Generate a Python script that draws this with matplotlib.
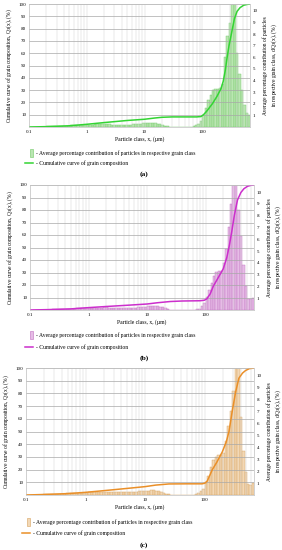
import numpy as np
import matplotlib
matplotlib.use('Agg')
import matplotlib.pyplot as plt
from matplotlib.patches import Rectangle
from matplotlib.lines import Line2D

plt.rcParams['font.family'] = ['Liberation Serif', 'DejaVu Serif']

# grain classes: 24 classes per decade from 0.1 um
class_edges = np.geomspace(0.1, 0.1 * 10 ** (92 / 24), 93)

# average percentage contribution per class, dQ3 (%)
dq_a = [0.02, 0.02, 0.02, 0.03, 0.03, 0.03, 0.04, 0.05, 0.05, 0.06, 0.07, 0.08,
        0.09, 0.10, 0.10, 0.11, 0.12, 0.13, 0.14, 0.15, 0.15, 0.16, 0.16, 0.17,
        0.18, 0.19, 0.20, 0.22, 0.23, 0.24, 0.25, 0.25, 0.24, 0.23, 0.21, 0.20,
        0.18, 0.17, 0.16, 0.16, 0.17, 0.18, 0.20, 0.22, 0.25, 0.28, 0.30, 0.32,
        0.34, 0.35, 0.36, 0.36, 0.34, 0.30, 0.25, 0.18, 0.10, 0.05, 0.02, 0.01,
        0, 0, 0, 0, 0, 0.01, 0.02, 0.04, 0.08, 0.15, 0.30, 0.55,
        1.0, 1.6, 2.3, 2.8, 3.2, 3.3, 3.3, 3.4, 3.7, 6.0, 7.8, 9.0,
        11.5, 11.0, 6.4, 4.6, 3.2, 1.9, 1.2, 1.0]
dq_b = [0.02, 0.02, 0.02, 0.02, 0.03, 0.03, 0.03, 0.04, 0.04, 0.05, 0.06, 0.07,
        0.08, 0.09, 0.09, 0.10, 0.11, 0.12, 0.12, 0.13, 0.14, 0.14, 0.15, 0.15,
        0.16, 0.17, 0.18, 0.19, 0.20, 0.21, 0.22, 0.22, 0.21, 0.20, 0.19, 0.18,
        0.17, 0.16, 0.15, 0.15, 0.16, 0.17, 0.18, 0.20, 0.22, 0.24, 0.26, 0.28,
        0.30, 0.31, 0.32, 0.32, 0.30, 0.27, 0.22, 0.15, 0.08, 0.04, 0.02, 0.01,
        0, 0, 0, 0, 0, 0.01, 0.02, 0.04, 0.07, 0.10, 0.30, 0.60,
        1.1, 1.7, 2.3, 2.9, 3.2, 3.3, 3.3, 4.0, 5.2, 7.0, 9.0, 11.5,
        11.5, 8.5, 6.3, 3.8, 2.0, 0.9, 0.9, 1.0]
dq_c = [0.02, 0.02, 0.03, 0.03, 0.03, 0.04, 0.04, 0.05, 0.06, 0.07, 0.08, 0.09,
        0.10, 0.11, 0.11, 0.12, 0.13, 0.14, 0.15, 0.16, 0.17, 0.18, 0.18, 0.19,
        0.20, 0.21, 0.22, 0.24, 0.25, 0.26, 0.27, 0.27, 0.26, 0.25, 0.24, 0.23,
        0.22, 0.21, 0.21, 0.21, 0.22, 0.23, 0.25, 0.27, 0.29, 0.31, 0.33, 0.35,
        0.36, 0.37, 0.38, 0.38, 0.36, 0.32, 0.26, 0.18, 0.10, 0.05, 0.02, 0.01,
        0, 0, 0, 0, 0, 0.01, 0.02, 0.04, 0.08, 0.15, 0.30, 0.50,
        1.0, 1.6, 2.3, 2.9, 3.2, 3.3, 3.3, 3.5, 4.5, 5.8, 7.0, 8.7,
        11.5, 11.0, 6.5, 3.7, 1.9, 0.9, 0.8, 1.0]

# cumulative curve of grain composition, Q3 (%)
qx_a = [0.1, 0.2, 0.5, 1, 2, 5, 10, 15, 20, 30, 50, 80, 95, 105, 120, 150, 180,
        210, 230, 250, 270, 290, 320, 360, 400, 450, 520, 600, 680]
qy_a = [0, 0.3, 1.0, 2.2, 3.6, 5.3, 6.3, 7.3, 7.9, 8.2, 8.2, 8.2, 8.5, 10, 13,
        19, 25, 31, 37, 46, 57, 66, 76, 88, 94, 97, 99, 99.7, 100]
qx_b = [0.1, 0.2, 0.5, 1, 2, 5, 10, 15, 25, 40, 80, 95, 105, 120, 135, 160,
        200, 230, 255, 280, 310, 350, 400, 450, 520, 600, 680]
qy_b = [0, 0.3, 0.9, 1.9, 2.8, 3.9, 4.8, 5.8, 6.8, 7.2, 7.4, 7.8, 9, 13, 19,
        25, 33, 42, 52, 63, 76, 88, 94, 97, 99, 99.8, 100]
qx_c = [0.1, 0.2, 0.5, 1, 2, 5, 10, 15, 25, 50, 90, 100, 110, 134, 160, 197,
        230, 255, 289, 329, 374, 430, 483, 560, 680]
qy_c = [0, 0.4, 1.1, 2.1, 3.4, 5.2, 6.6, 7.8, 8.7, 8.8, 8.8, 9.3, 11, 20, 26,
        34, 42, 50, 66, 81, 92, 96, 98, 99.5, 100]

W, H = 282, 550
fig = plt.figure(figsize=(W / 100, H / 100), dpi=100)


def fx(px):
    return px / W


def fy(py):
    return 1 - py / H


def panel(box, dq, qx, qy, fill, edge, line, tag, lab):
    left, top, right, bottom = box
    ax = fig.add_axes([fx(left), fy(bottom), fx(right - left), (bottom - top) / H])
    ax2 = ax.twinx()
    ax.set_zorder(ax2.get_zorder() + 1)
    ax.patch.set_visible(False)
    ax2.set_facecolor('#f6f6f6')

    ax2.bar(class_edges[:-1], dq, width=np.diff(class_edges), align='edge',
            color=fill, edgecolor=edge, linewidth=0.3)
    ax.plot(qx, qy, color=line, lw=1.1)

    ax.set_xscale('log')
    ax.set_xlim(0.1, 670)
    ax.set_ylim(0, 100)
    ax2.set_ylim(0, 10.6)
    ax.set_yticks(range(10, 101, 10))
    ax2.set_yticks(range(1, 11))
    ax.set_xticks([0.1, 1, 10, 100])
    ax.set_xticklabels(['0.1', '1', '10', '100'])
    ax.grid(True, axis='y', color='#a8a8a8', lw=0.5)
    ax.grid(True, axis='x', which='both', color='#d4d4d4', lw=0.35)
    for a in (ax, ax2):
        a.tick_params(which='both', length=0, labelsize=3.6, pad=2)
        for s in a.spines.values():
            s.set_color('#c8c8c8')
            s.set_linewidth(0.4)
    ax.set_ylabel('Cumulative curve of grain composition, Q$_3$(x), (%)',
                  fontsize=4.0, labelpad=3)
    ax2.set_ylabel('Average percentage contribution of particles\n'
                   'in respective grain class, dQ$_3$(x), (%)',
                   fontsize=4.0, labelpad=3)
    ax.set_xlabel('Particle class, x, (µm)', fontsize=4.1, labelpad=1.5)

    ly1, ly2, ly3, sx = lab
    fig.add_artist(Rectangle((fx(sx), fy(ly1 + 4)), 3 / W, 8 / H,
                             transform=fig.transFigure, facecolor=fill,
                             edgecolor=edge, lw=0.4))
    fig.text(fx(sx + 6), fy(ly1),
             '- Average percentage contribution of particles in respective grain class',
             fontsize=4.1, va='center', ha='left')
    fig.add_artist(Line2D([fx(sx - 5), fx(sx + 3)], [fy(ly2), fy(ly2)],
                          transform=fig.transFigure, color=line, lw=1.1))
    fig.text(fx(sx + 6), fy(ly2), '- Cumulative curve of grain composition',
             fontsize=4.1, va='center', ha='left')
    fig.text(fx(144), fy(ly3), tag, fontsize=5.3, fontweight='bold',
             va='center', ha='center')


panel((29, 4, 250, 127), dq_a, qx_a, qy_a, '#bae6b2', '#72c968', '#33d433',
      '(a)', (153, 163, 174, 30))
panel((30, 185, 254, 310), dq_b, qx_b, qy_b, '#e6bce6', '#c070c0', '#cc2ecc',
      '(b)', (335, 347, 358, 30))
panel((26, 368, 254, 495), dq_c, qx_c, qy_c, '#f2d8b6', '#d6a25e', '#ea8f28',
      '(c)', (522, 533, 545, 27))

fig.savefig('out.png', dpi=100)
